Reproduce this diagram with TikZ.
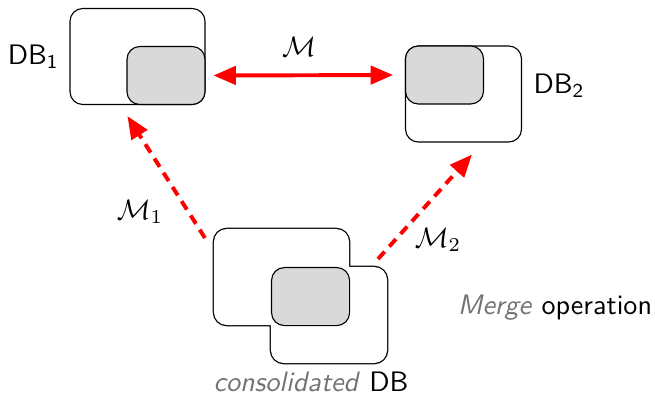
\documentclass[tikz,border=0pt]{standalone}
\usepackage{tikz}
\usetikzlibrary{positioning,calc,arrows.meta}
\renewcommand{\familydefault}{\sfdefault}
\tikzstyle{dbbox} = [rectangle, rounded corners=0.16cm, draw=black, inner sep=0cm, minimum height=1.2cm]
\tikzstyle{widedb} = [dbbox, minimum width=1.6875cm]
\tikzstyle{narrowdb} = [dbbox, minimum width=1.45cm]
\tikzstyle{shared} = [dbbox, minimum width=0.975cm, minimum height=0.725cm, fill=gray!30]
\tikzstyle{mapping} = [draw=red, line width=1.4pt, -{Triangle[length=8pt,width=6.5pt]}]
\tikzstyle{partial} = [mapping, dash pattern=on 3.5pt off 2.5pt]
\tikzstyle{tag} = [inner sep=0cm]
\colorlet{labelgray}{black!55}

\begin{document}
\begin{tikzpicture}[x=0.0125cm, y=0.0125cm]
        \useasboundingbox (0,0) rectangle (655,394);
        % Source databases -------------------------------------------------------------------------
        \node[widedb](db1) at (137.5,337.5){};
        \node[shared, anchor=south east](db1_part) at (db1.south east){};
        \node[narrowdb](db2) at (463.5,300){};
        \node[shared, anchor=north west](db2_part) at (db2.north west){};
        % Consolidated database (union outline) ----------------------------------------------------
        \node[widedb, line width=0.9pt, outer sep=0pt](cons_a) at (281.5,117){};
        \node[narrowdb, line width=0.9pt, outer sep=0pt](cons_b) at (329,79){};
        \fill[white, rounded corners=0.16cm] (cons_a.south west) rectangle (cons_a.north east);
        \fill[white, rounded corners=0.16cm] (cons_b.south west) rectangle (cons_b.north east);
        \node[shared, anchor=north west](cons_part) at (cons_b.north west){};
        % Labels -----------------------------------------------------------------------------------
        \node[tag, left=0.125cm of db1](db1_label){DB$_{\mathsf{1}}$};
        \node[tag, anchor=west](db2_label) at ($(db2.east)+(11,8)$){DB$_{\mathsf{2}}$};
        \node[tag](cons_label) at (311,12){\textcolor{labelgray}{\textit{consolidated}} DB};
        \node[tag](merge_label) at (555,86){\textcolor{labelgray}{\textit{Merge}} operation};
        \node[tag](m_label) at (299,347){$\mathcal{M}$};
        \node[tag](m1_label) at (140,182){$\mathcal{M}_1$};
        \node[tag](m2_label) at (438,154){$\mathcal{M}_2$};
        % Arrows -----------------------------------------------------------------------------------
        \coordinate (m1_tail) at ($(cons_a.north west)+(-9,-9)$);
        \coordinate (m1_head) at ($(db1_part.south west)+(1,-11)$);
        \coordinate (m2_tail) at ($(cons_b.north east)+(-9,8)$);
        \coordinate (m2_head) at ($(db2.south)+(8.5,-12)$);
        \draw[mapping, {Triangle[length=8pt,width=6.5pt]}-{Triangle[length=8pt,width=6.5pt]}, shorten <=2.8pt, shorten >=4.2pt] (db1_part.east) -- (db2_part.west);
        \draw[partial] (m1_tail) -- (m1_head);
        \draw[partial] (m2_tail) -- (m2_head);
    \end{tikzpicture}
\end{document}
